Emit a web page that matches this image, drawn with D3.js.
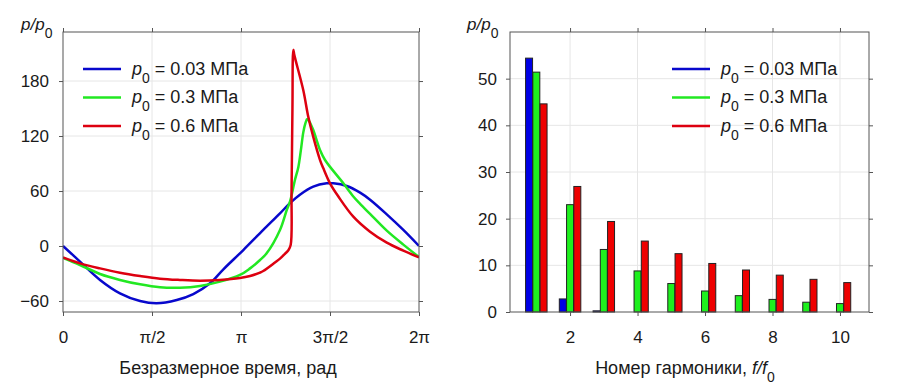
<!DOCTYPE html>
<html><head><meta charset="utf-8">
<script src="https://cdn.jsdelivr.net/npm/d3@7"></script>
<style>
body{margin:0;background:#fff}
text{font-family:"Liberation Sans",Arial,sans-serif;fill:#1a1a1a}
</style>
</head><body>
<svg id="c" width="908" height="388"></svg>
<script>
// ---------- data ----------
const seriesLabels = ["0.03 МПа", "0.3 МПа", "0.6 МПа"];
const lineColors = ["#0808cc", "#22e822", "#dd0010"];
const barColors = ["#0000e6", "#1ef01e", "#ee0000"];

// left panel: dimensionless time in units of π
const blueT = [0, 0.0955, 0.208, 0.320, 0.433, 0.526, 0.639, 0.732, 0.826, 0.901, 1.013, 1.125, 1.219, 1.275, 1.331, 1.406, 1.481, 1.519, 1.594, 1.669, 1.725, 1.819, 1.912, 2.0];
const blueV = [0, -17, -37, -51.6, -60, -62.5, -58.9, -52.4, -40.7, -25.4, -4.4, 17.5, 35.6, 46.8, 56, 64.8, 68.4, 68.4, 65.5, 58.2, 50.5, 34.5, 17.5, 0];

const greenT = [0, 0.0955, 0.208, 0.320, 0.433, 0.545, 0.657, 0.770, 0.882, 0.994, 1.051, 1.107, 1.144, 1.219, 1.257, 1.275, 1.303, 1.322, 1.336, 1.350, 1.362, 1.372, 1.385, 1.406, 1.444, 1.472, 1.575, 1.631, 1.669, 1.725, 1.819, 1.912, 2.0];
const greenV = [-13, -20.7, -30.5, -37, -41.8, -45, -45.5, -43.6, -38.9, -31.6, -24.4, -15.3, -8, 17.5, 39.3, 48.3, 72, 86, 104, 124, 134, 138.5, 135.5, 126.5, 104.7, 93.8, 68.4, 54, 46, 35, 16.7, 1.5, -12];

const redT = [0, 0.0955, 0.208, 0.320, 0.433, 0.545, 0.657, 0.770, 0.882, 0.994, 1.051, 1.107, 1.125, 1.191, 1.219, 1.247, 1.266, 1.279, 1.284, 1.289, 1.294, 1.300, 1.350, 1.378, 1.406, 1.444, 1.462, 1.500, 1.547, 1.631, 1.725, 1.819, 1.912, 2.0];
const redV = [-12.5, -18.9, -24.4, -29.1, -32.7, -35.6, -37, -37.8, -37, -34.9, -32.7, -29, -27.3, -18, -13.8, -8.5, -4.6, 1, 60, 150, 214, 208, 170, 141, 119, 93.8, 85, 68.4, 54, 32, 15.6, 3.6, -5.1, -12.5];

const leftXTicks = [0, 0.5, 1, 1.5, 2];
const leftXTickLabels = ["0", "π/2", "π", "3π/2", "2π"];
const leftYTicks = [-60, 0, 60, 120, 180];

// right panel: harmonic amplitudes
const harmonics = [1, 2, 3, 4, 5, 6, 7, 8, 9, 10];
const blueBars = [54.4, 2.8, 0.25, 0, 0, 0, 0, 0, 0, 0];
const greenBars = [51.4, 23.0, 13.4, 8.8, 6.1, 4.5, 3.5, 2.7, 2.1, 1.8];
const redBars = [44.6, 26.9, 19.4, 15.2, 12.5, 10.4, 9.0, 7.9, 7.0, 6.3];
const rightXTicks = [2, 4, 6, 8, 10];
const rightYTicks = [0, 10, 20, 30, 40, 50];

// ---------- drawing ----------
const svg = d3.select("#c");
const FS = 17;   // tick labels
const FT = 18;   // titles / legend

function grid(g, x, y, xt, yt) {
  const [x0, x1] = x.range(), [y0, y1] = y.range();
  g.append("g").selectAll("line").data(xt.filter(v => x(v) > x0 + 1 && x(v) < x1 - 1)).join("line")
    .attr("x1", d => x(d)).attr("x2", d => x(d)).attr("y1", y0).attr("y2", y1)
    .attr("stroke", "#e6e6e6").attr("stroke-width", 1);
  g.append("g").selectAll("line").data(yt.filter(v => y(v) < y0 - 1 && y(v) > y1 + 1)).join("line")
    .attr("y1", d => y(d)).attr("y2", d => y(d)).attr("x1", x0).attr("x2", x1)
    .attr("stroke", "#e6e6e6").attr("stroke-width", 1);
}

function axes(g, x, y, xt, yt, xLabels, yPad) {
  const [x0, x1] = x.range(), [y0, y1] = y.range();
  const ax = d3.axisBottom(x).tickValues(xt).tickSize(4).tickSizeOuter(0).tickPadding(15)
    .tickFormat((d, i) => xLabels ? xLabels[i] : d);
  const gb = g.append("g").attr("transform", `translate(0,${y0})`).call(ax);
  const at = d3.axisTop(x).tickValues(xt).tickSize(4).tickSizeOuter(0).tickFormat("");
  const gt = g.append("g").attr("transform", `translate(0,${y1})`).call(at);
  const al = d3.axisLeft(y).tickValues(yt).tickSize(4).tickSizeOuter(0).tickPadding(yPad);
  const gl = g.append("g").attr("transform", `translate(${x0},0)`).call(al);
  const ar = d3.axisRight(y).tickValues(yt).tickSize(4).tickSizeOuter(0).tickFormat("");
  const gr = g.append("g").attr("transform", `translate(${x1},0)`).call(ar);
  [gb, gt, gl, gr].forEach(a => {
    a.select(".domain").remove();
    a.selectAll(".tick line").attr("stroke", "#555");
    a.selectAll("text").attr("font-size", FS).attr("font-family", "Liberation Sans, Arial, sans-serif").attr("fill", "#1a1a1a");
  });
  g.append("rect").attr("x", x0).attr("y", y1).attr("width", x1 - x0).attr("height", y0 - y1)
    .attr("fill", "none").attr("stroke", "#555").attr("stroke-width", 1);
}

function subText(g, x, y, parts, anchor, fs) {
  const t = g.append("text").attr("x", x).attr("y", y).attr("font-size", fs || FT).attr("text-anchor", anchor || "start");
  parts.forEach(p => {
    const s = t.append("tspan").text(p.t);
    if (p.i) s.attr("font-style", "italic");
    if (p.sub) s.attr("font-size", 14).attr("dy", 8);
    if (p.up) s.attr("dy", -8);
  });
  return t;
}

function legend(g, lx, ly) {
  seriesLabels.forEach((lab, i) => {
    const yy = ly + i * 28.5;
    g.append("line").attr("x1", lx).attr("x2", lx + 38).attr("y1", yy).attr("y2", yy)
      .attr("stroke", lineColors[i]).attr("stroke-width", 2.5);
    subText(g, lx + 49, yy + 5.5, [{t: "p", i: true}, {t: "0", sub: true}, {t: " = " + lab, up: true}]);
  });
}

// ----- left panel -----
const L = svg.append("g");
const xL = d3.scaleLinear().domain([0, 2]).range([63, 419]);
const yL = d3.scaleLinear().domain([-72, 233.5]).range([312, 32]);
grid(L, xL, yL, leftXTicks, leftYTicks);
const line = d3.line().x(d => xL(d[0])).y(d => yL(d[1])).curve(d3.curveCatmullRom.alpha(0.5));
const curves = [[blueT, blueV], [greenT, greenV], [redT, redV]];
svg.append("clipPath").attr("id", "clipL").append("rect")
  .attr("x", 63).attr("y", 32).attr("width", 356).attr("height", 280);
curves.forEach(([T, V], i) => {
  L.append("path").datum(T.map((t, k) => [t, V[k]]))
    .attr("d", line).attr("fill", "none").attr("stroke", lineColors[i])
    .attr("stroke-width", 2.5).attr("stroke-linejoin", "round").attr("clip-path", "url(#clipL)");
});
axes(L, xL, yL, leftXTicks, leftYTicks, leftXTickLabels, 10);
legend(L, 83, 69);
subText(L, 21, 30, [{t: "p/p", i: true}, {t: "0", sub: true}], "start", FS);
L.append("text").attr("x", 228).attr("y", 374).attr("text-anchor", "middle").attr("font-size", FT)
  .text("Безразмерное время, рад");

// ----- right panel -----
const R = svg.append("g");
const xR = d3.scaleLinear().domain([0.22, 10.86]).range([510, 869]);
const yR = d3.scaleLinear().domain([0, 60]).range([312, 32]);
grid(R, xR, yR, rightXTicks, rightYTicks);
const bw = 0.207, off = 0.215;
[blueBars, greenBars, redBars].forEach((vals, s) => {
  R.append("g").selectAll("rect").data(harmonics.map((h, k) => [h, vals[k]]).filter(d => d[1] > 0)).join("rect")
    .attr("x", d => xR(d[0] + (s - 1) * off - bw / 2))
    .attr("width", d => xR(d[0] + bw / 2) - xR(d[0] - bw / 2))
    .attr("y", d => yR(d[1]))
    .attr("height", d => yR(0) - yR(d[1]))
    .attr("fill", barColors[s]).attr("stroke", "#222").attr("stroke-width", 1);
});
axes(R, xR, yR, rightXTicks, rightYTicks, null, 9);
legend(R, 672, 69);
subText(R, 467, 30, [{t: "p/p", i: true}, {t: "0", sub: true}], "start", FS);
subText(R, 685, 374, [{t: "Номер гармоники, "}, {t: "f/f", i: true}, {t: "0", sub: true}], "middle");
</script>
</body></html>
